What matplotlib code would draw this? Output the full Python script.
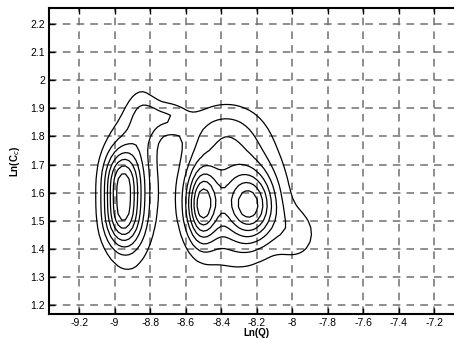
import numpy as np
import matplotlib
import matplotlib.pyplot as plt

matplotlib.use("Agg")

plt.rcParams["font.family"] = ["Liberation Sans", "DejaVu Sans"]

# Density components (ln Q, ln Cc) estimated for the joint distribution
comp_lnq = [-8.96, -8.96, -8.92, -8.84, -8.71,
            -8.51, -8.23, -8.33, -7.97, -8.40]
comp_lncc = [1.51, 1.65, 1.60, 1.86, 1.87,
             1.555, 1.55, 1.60, 1.45, 1.82]
comp_sq = [0.07, 0.07, 0.10, 0.06, 0.08,
           0.06, 0.09, 0.18, 0.09, 0.15]
comp_sc = [0.07, 0.07, 0.18, 0.08, 0.04,
           0.09, 0.08, 0.16, 0.07, 0.07]
comp_w = [0.46, 0.46, 0.35, 0.18, 0.2,
          0.62, 0.5, 0.45, 0.16, 0.15]

levels = [0.125, 0.235, 0.345, 0.455, 0.565, 0.675, 0.785]

xticks = [-9.2, -9, -8.8, -8.6, -8.4, -8.2, -8, -7.8, -7.6, -7.4, -7.2]
yticks = [1.2, 1.3, 1.4, 1.5, 1.6, 1.7, 1.8, 1.9, 2, 2.1, 2.2]


def density(q, c):
    z = np.zeros_like(q)
    for mq, mc, sq, sc, w in zip(comp_lnq, comp_lncc, comp_sq, comp_sc, comp_w):
        z += w * np.exp(-0.5 * (((q - mq) / sq) ** 2 + ((c - mc) / sc) ** 2))
    return z


q = np.arange(-9.4, -7.5, 0.02)
c = np.arange(1.15, 2.25, 0.025)
Q, C = np.meshgrid(q, c)
Z = density(Q, C)

fig = plt.figure(figsize=(4.54, 3.38), dpi=100)
ax = fig.add_axes([0.108, 0.071, 0.915, 0.905])

ax.contour(Q, C, Z, levels=levels, colors="black", linewidths=0.9)

ax.set_xlim(-9.37, -7.03)
ax.set_ylim(1.168, 2.257)
ax.set_xticks(xticks)
ax.set_xticklabels([f"{t:g}" for t in xticks])
ax.set_yticks(yticks)
ax.set_yticklabels([f"{t:g}" for t in yticks])
ax.grid(True, color="#707070", linestyle=(0, (5, 4)), linewidth=1.1)
ax.tick_params(direction="in", length=4, width=1, top=True, right=True,
               labelsize=7.5, pad=3)
for s in ax.spines.values():
    s.set_linewidth(1.5)

ax.set_xlabel("Ln(Q)", fontsize=7, fontweight="bold", labelpad=0)
ax.set_ylabel("Ln(C$_c$)", fontsize=7, fontweight="bold", labelpad=6)

fig.savefig("out.png", dpi=100)
